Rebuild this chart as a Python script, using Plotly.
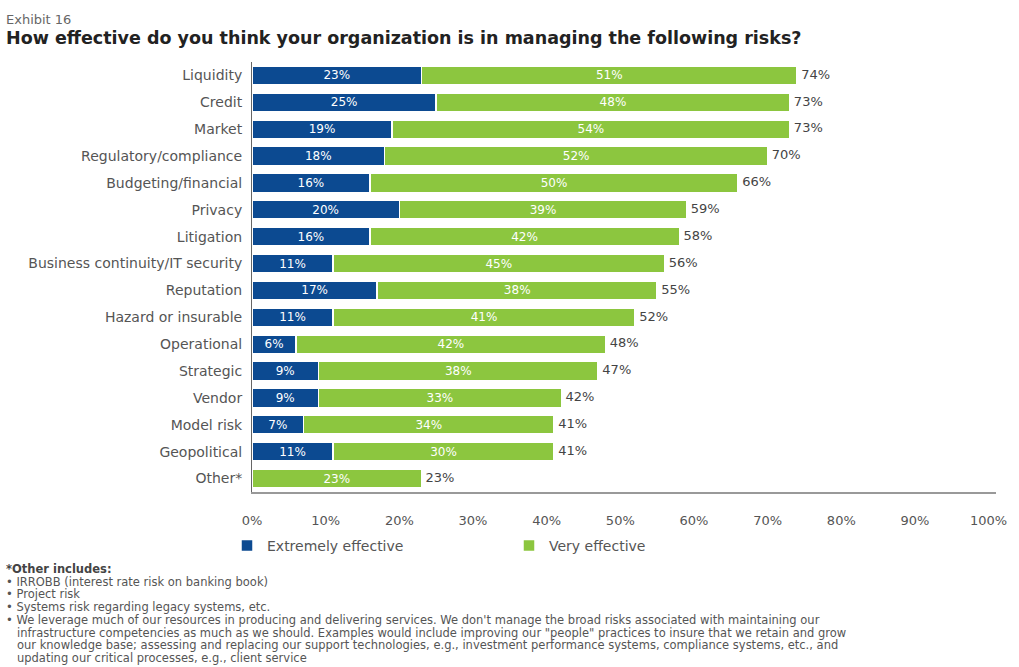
import plotly.graph_objects as go

categories = ["Liquidity", "Credit", "Market", "Regulatory/compliance", "Budgeting/financial",
              "Privacy", "Litigation", "Business continuity/IT security", "Reputation",
              "Hazard or insurable", "Operational", "Strategic", "Vendor", "Model risk",
              "Geopolitical", "Other*"]
extremely = [23, 25, 19, 18, 16, 20, 16, 11, 17, 11, 6, 9, 9, 7, 11, 0]
very = [51, 48, 54, 52, 50, 39, 42, 45, 38, 41, 42, 38, 33, 34, 30, 23]
totals = [74, 73, 73, 70, 66, 59, 58, 56, 55, 52, 48, 47, 42, 41, 41, 23]
x_ticks = [0, 10, 20, 30, 40, 50, 60, 70, 80, 90, 100]
x_tick_labels = [f"{t}%" for t in x_ticks]

footnotes = [
    "• IRROBB (interest rate risk on banking book)",
    "• Project risk",
    "• Systems risk regarding legacy systems, etc.",
    "• We leverage much of our resources in producing and delivering services. We don't manage the broad risks associated with maintaining our",
    "   infrastructure competencies as much as we should. Examples would include improving our \"people\" practices to insure that we retain and grow",
    "   our knowledge base; assessing and replacing our support technologies, e.g., investment performance systems, compliance systems, etc., and",
    "   updating our critical processes, e.g., client service",
]

BLUE = "#0c4a91"
GREEN = "#8cc63f"
FONT = "DejaVu Sans"
PW, PH = 744, 430  # plot area size in px

fig = go.Figure()
fig.add_trace(go.Bar(
    y=categories, x=extremely, orientation="h", name="Extremely effective",
    marker=dict(color=BLUE, line=dict(color="white", width=1.5)),
    text=[f"{v}%" if v else "" for v in extremely], textposition="inside",
    insidetextanchor="middle", textangle=0, constraintext="none",
    textfont=dict(color="white", size=12, family=FONT), width=0.7,
))
fig.add_trace(go.Bar(
    y=categories, x=very, orientation="h", name="Very effective",
    marker=dict(color=GREEN, line=dict(color="white", width=1.5)),
    text=[f"{v}%" for v in very], textposition="inside",
    insidetextanchor="middle", textangle=0, constraintext="none",
    textfont=dict(color="white", size=12, family=FONT), width=0.7,
))
fig.add_trace(go.Scatter(
    y=categories, x=totals, mode="text", text=[f" {v}%" for v in totals],
    textposition="middle right", textfont=dict(color="#444", size=13, family=FONT),
    showlegend=False, hoverinfo="skip", cliponaxis=False,
))

fig.update_layout(
    barmode="stack",
    width=1019, height=667,
    margin=dict(l=252, r=23, t=62, b=175),
    paper_bgcolor="white", plot_bgcolor="white",
    font=dict(family=FONT, color="#555", size=12),
    xaxis=dict(range=[0, 101], tickvals=x_ticks, ticktext=x_tick_labels,
               showgrid=False, zeroline=False, showline=True, linecolor="#999",
               linewidth=2, ticks="", ticklabelstandoff=15,
               tickfont=dict(size=13, color="#555")),
    yaxis=dict(categoryorder="array", categoryarray=categories,
               range=[len(categories) - 0.5, -0.5], autorange=False,
               showgrid=False, showline=True, linecolor="#666", linewidth=1,
               ticks="", ticklabelstandoff=6, tickfont=dict(size=14, color="#555")),
    legend=dict(orientation="h", x=-25 / PW, xanchor="left", y=-0.088, yanchor="top",
                entrywidth=237, entrywidthmode="pixels",
                font=dict(size=14, color="#555"), traceorder="normal"),
    showlegend=True,
)

fig.add_annotation(text="Exhibit 16", xref="paper", yref="paper", x=-248 / PW, y=1 + 42 / PH,
                   xanchor="left", yanchor="middle", showarrow=False,
                   font=dict(size=13, color="#666", family=FONT))
fig.add_annotation(text="<b>How effective do you think your organization is in managing the following risks?</b>",
                   xref="paper", yref="paper", x=-248 / PW, y=1 + 24 / PH,
                   xanchor="left", yanchor="middle", showarrow=False,
                   font=dict(size=17.5, color="#222", family=FONT))

fig.add_annotation(text="<b>*Other includes:</b>", xref="paper", yref="paper",
                   x=-248 / PW, y=-(569 - 492) / PH, xanchor="left", yanchor="middle",
                   showarrow=False, font=dict(size=11.5, color="#444", family=FONT))
for i, line in enumerate(footnotes):
    fig.add_annotation(text=line, xref="paper", yref="paper",
                       x=-248 / PW, y=-(581.7 + 12.7 * i - 492) / PH, xanchor="left", yanchor="middle",
                       showarrow=False, font=dict(size=11.5, color="#555", family=FONT))

fig.write_html("out.html")
